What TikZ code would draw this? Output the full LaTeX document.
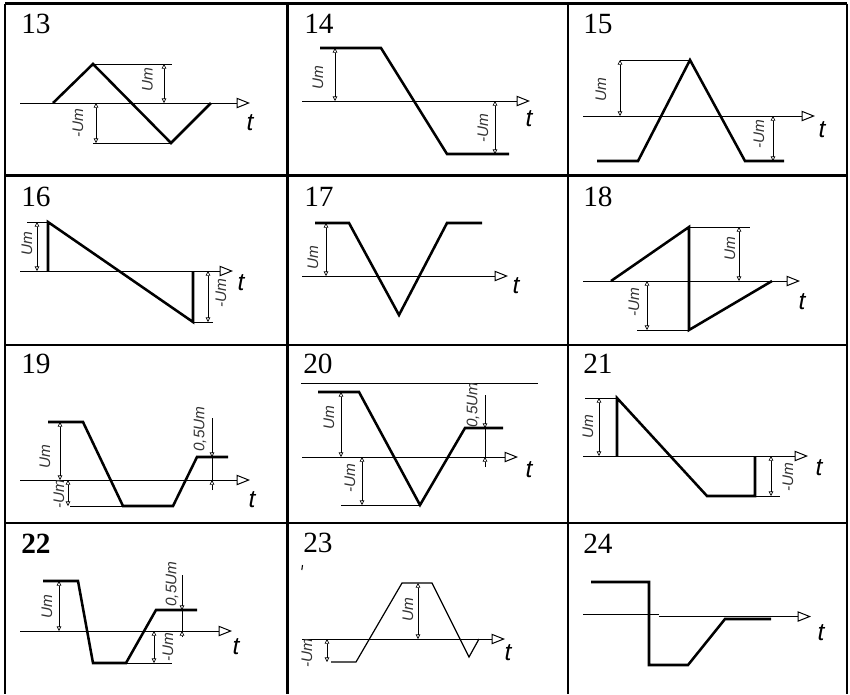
\documentclass[tikz,border=0pt]{standalone}
\usepackage{fontspec}
\setmainfont{Liberation Serif}
\newfontfamily\arialfam{Liberation Sans}
\usetikzlibrary{arrows.meta}
\newcommand\numsz{\fontsize{22}{25}\selectfont}
\newcommand\labsz{\arialfam\itshape\fontsize{11.5}{12}\selectfont}
\newcommand\tsz{\arialfam\itshape\fontsize{18.5}{20}\selectfont}
\tikzset{
  grid/.style={line width=1.9pt},
  wave/.style={line width=1.9pt, line join=miter},
  wavethin/.style={line width=0.9pt},
  ax/.style={line width=0.75pt, -{Triangle[open,length=10pt,width=7.8pt,line width=0.75pt]}},
  axplain/.style={line width=0.75pt},
  dimln/.style={line width=0.6pt, {Triangle[open,length=3.5pt,width=3.5pt,line width=0.5pt]}-{Triangle[open,length=3.5pt,width=3.5pt,line width=0.5pt]}},
  dimhalf/.style={line width=0.6pt, -{Triangle[open,length=3.5pt,width=3.5pt,line width=0.5pt]}},
  ext/.style={line width=0.6pt},
  lab/.style={rotate=90, font=\labsz, text=black!80, inner sep=0pt},
  tlab/.style={font=\tsz, inner sep=0pt},
  num/.style={font=\numsz, anchor=base west, inner sep=0pt}
}
\begin{document}
\begin{tikzpicture}[x=0.75pt,y=-0.75pt]
\useasboundingbox (0,0) rectangle (850,694);
% table grid
\draw[grid] (5,3.5) -- (847,3.5);
\draw[grid] (5,175.5) -- (847,175.5);
\draw[grid] (5,345) -- (847,345);
\draw[grid] (5,523) -- (847,523);
\draw[grid] (5,3.5) -- (5,694);
\draw[grid] (287.5,3.5) -- (287.5,694);
\draw[grid] (568,3.5) -- (568,694);
\draw[grid] (847,3.5) -- (847,694);

% ---------- 13 ----------
\node[num] (n13) at (21,33) {13};
\draw[ax] (20,103) -- (250,103);
\node[tlab] (t13) at (250,123) {t};
\draw[wave] (53,103) -- (93,64) -- (171,143) -- (211,103);
\draw[ext] (93,64) -- (172,64);
\draw[dimln] (164,64) -- (164,103);
\node[lab] (u13) at (147.5,80) {Um};
\draw[ext] (93,143) -- (171,143);
\draw[dimln] (96,103) -- (96,143);
\node[lab] (m13) at (78,123) {-Um};

% ---------- 14 ----------
\node[num] (n14) at (304,33) {14};
\draw[ax] (302,101) -- (530,101);
\node[tlab] (t14) at (529,119) {t};
\draw[wave] (320,48) -- (381,48) -- (447,154) -- (509,154);
\draw[dimln] (335,48) -- (335,101);
\node[lab] (u14) at (318,78) {Um};
\draw[dimln] (495,101) -- (495,154);
\node[lab] (m14) at (483,128) {-Um};

% ---------- 15 ----------
\node[num] (n15) at (583,33) {15};
\draw[ax] (583,116) -- (815,116);
\node[tlab] (t15) at (822,130) {t};
\draw[wave] (597,161) -- (638,161) -- (690,60) -- (745,161) -- (784,161);
\draw[ext] (620,60) -- (690,60);
\draw[dimln] (620,60) -- (620,116);
\node[lab] (u15) at (601,90) {Um};
\draw[dimln] (773,116) -- (773,161);
\node[lab] (m15) at (759,134) {-Um};

% ---------- 16 ----------
\node[num] (n16) at (21,206) {16};
\draw[ax] (20,271) -- (233,271);
\node[tlab] (t16) at (241,283) {t};
\draw[wave] (48,271) -- (48,222) -- (193,322) -- (193,271);
\draw[ext] (27,222) -- (48,222);
\draw[dimln] (37,222) -- (37,271);
\node[lab] (u16) at (27,244) {Um};
\draw[ext] (193,322) -- (213,322);
\draw[dimln] (208,271) -- (208,322);
\node[lab] (m16) at (221,293) {-Um};

% ---------- 17 ----------
\node[num] (n17) at (304,206) {17};
\draw[ax] (302,276) -- (508,276);
\node[tlab] (t17) at (516,286) {t};
\draw[wave] (315,223) -- (349,223) -- (399,315) -- (447,223) -- (482,223);
\draw[dimln] (326,223) -- (326,276);
\node[lab] (u17) at (313,258) {Um};

% ---------- 18 ----------
\node[num] (n18) at (583,206) {18};
\draw[ax] (583,281) -- (800,281);
\node[tlab] (t18) at (802,302) {t};
\draw[wave] (611,281) -- (689,227) -- (689,330) -- (772,281);
\draw[ext] (689,227) -- (750,227);
\draw[dimln] (739,227) -- (739,281);
\node[lab] (u18) at (730,249) {Um};
\draw[ext] (637,330) -- (689,330);
\draw[dimln] (647,281) -- (647,330);
\node[lab] (m18) at (634,302) {-Um};

% ---------- 19 ----------
\node[num] (n19) at (21,373) {19};
\draw[ax] (20,480) -- (250,480);
\node[tlab] (t19) at (252,500) {t};
\draw[wave] (48,422) -- (83,422) -- (123,506) -- (173,506) -- (197,457) -- (228,457);
\draw[dimln] (60,422) -- (60,480);
\node[lab] (u19) at (45,457) {Um};
\draw[ext] (70,506) -- (123,506);
\draw[dimln] (68,480) -- (68,506);
\node[lab] (m19) at (59,494) {-Um};
\draw[dimhalf] (212,418) -- (212,457);
\draw[ext] (212,457) -- (212,480);
\draw[dimhalf] (212,490) -- (212,480);
\node[lab] (h19) at (200,429) {0,5Um};

% ---------- 20 ----------
\node[num] (n20) at (303,373) {20};
\draw[axplain] (301,383) -- (538,383);
\draw[ax] (302,457) -- (518,457);
\node[tlab] (t20) at (529,470) {t};
\draw[wave] (318,392) -- (359,392) -- (420,505) -- (465,428) -- (503,428);
\draw[dimln] (341,392) -- (341,457);
\node[lab] (u20) at (329,418) {Um};
\draw[ext] (341,505) -- (420,505);
\draw[dimln] (362,457) -- (362,505);
\node[lab] (m20) at (350,478) {-Um};
\draw[dimhalf] (485,395) -- (485,428);
\draw[ext] (485,428) -- (485,457);
\draw[dimhalf] (485,467) -- (485,457);
\node[lab] (h20) at (473,405) {0,5Um};

% ---------- 21 ----------
\node[num] (n21) at (583,373) {21};
\draw[ax] (583,456) -- (808,456);
\node[tlab] (t21) at (819,468) {t};
\draw[wave] (617,456) -- (617,398) -- (707,496) -- (755,496) -- (755,456);
\draw[ext] (585,398) -- (617,398);
\draw[dimln] (599,398) -- (599,456);
\node[lab] (u21) at (588,427) {Um};
\draw[ext] (755,496) -- (780,496);
\draw[dimln] (771,456) -- (771,496);
\node[lab] (m21) at (788,477) {-Um};

% ---------- 22 ----------
\node[num] (n22) at (21,553) {\bfseries 22};
\draw[ax] (20,631) -- (232,631);
\node[tlab] (t22) at (236,647) {t};
\draw[wave] (43,581) -- (78,581) -- (93,663) -- (126,663) -- (156,610) -- (197,610);
\draw[dimln] (59,581) -- (59,631);
\node[lab] (u22) at (47,607) {Um};
\draw[ext] (126,663) -- (172,663);
\draw[dimln] (154,631) -- (154,663);
\node[lab] (m22) at (168,647) {-Um};
\draw[dimhalf] (182,575) -- (182,610);
\draw[ext] (182,610) -- (182,631);
\draw[dimhalf] (182,637) -- (182,631);
\node[lab] (h22) at (172,584) {0,5Um};

% ---------- 23 ----------
\node[num] (n23) at (303,552) {23};
\draw[line width=0.8pt] (302.5,565) -- (301.8,570);
\draw[ax] (302,639) -- (505,639);
\node[tlab] (t23) at (508,653) {t};
\draw[wavethin] (331,662) -- (356,662) -- (402,583) -- (432,583) -- (469,657) -- (479,639);
\draw[dimln] (418,583) -- (418,639);
\node[lab] (u23) at (408,610) {Um};
\draw[dimln] (327,639) -- (327,662);
\node[lab] (m23) at (307,653) {-Um};

% ---------- 24 ----------
\node[num] (n24) at (583,553) {24};
\draw[axplain] (583,614) -- (659,614);
\draw[ax] (659,616.5) -- (811,616.5);
\node[tlab] (t24) at (821,633) {t};
\draw[wave] (591,582) -- (649,582) -- (649,665) -- (688,665) -- (725,619) -- (771,619);
\end{tikzpicture}
\end{document}
